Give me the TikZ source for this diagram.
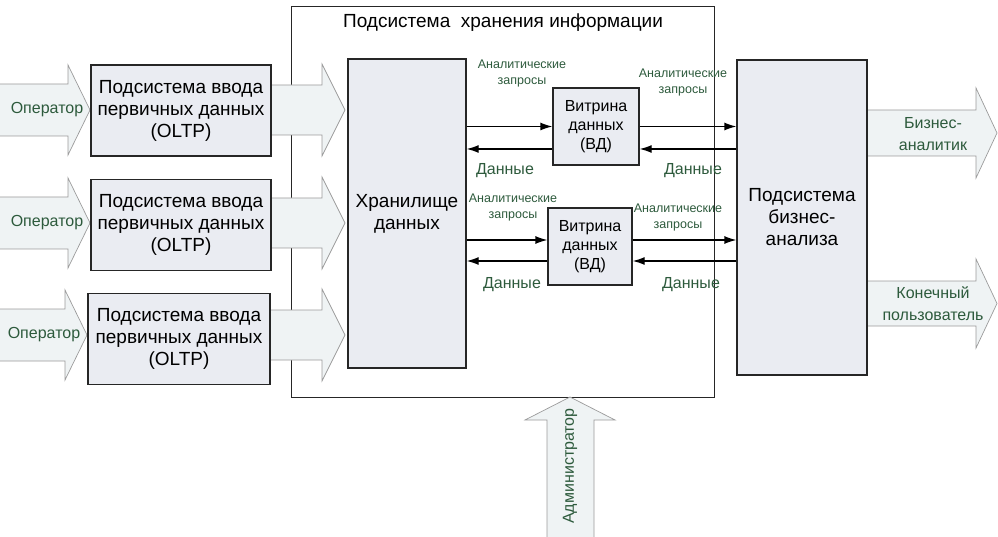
\documentclass[tikz,border=0pt]{standalone}
\usepackage{fontspec}
\setmainfont{Liberation Sans}
\usepackage{tikz}
\usetikzlibrary{positioning, calc, arrows.meta}
\definecolor{boxfill}{RGB}{234, 236, 242}
\definecolor{arrowfill}{RGB}{239, 243, 244}
\definecolor{arrowline}{RGB}{155, 155, 155}
\definecolor{labelgreen}{RGB}{45, 90, 60}

\begin{document}
\begin{tikzpicture}[
        x=1pt, y=-1pt,
        box/.style={
            rectangle, draw=black!85, line width=1.3pt, fill=boxfill,
            inner sep=0pt, align=center, font=\fontsize{19}{22}\selectfont,
        },
        oltp/.style={box, minimum width=180pt, minimum height=91pt},
        mart/.style={box, minimum height=77pt, font=\fontsize{16}{19}\selectfont},
        fat/.style={draw=arrowline, line width=0.7pt, fill=arrowfill},
        lbl/.style={text=labelgreen, align=center, font=\fontsize{16}{21.5}\selectfont},
        small/.style={text=labelgreen, align=center, font=\fontsize{12.5}{16}\selectfont},
        flow/.style={-{Latex[length=12pt,width=8pt]}, line width=1.3pt},
    ]
    \useasboundingbox (0,0) rectangle (998,537);

    % storage subsystem frame
    \node[draw=black!85, line width=1.3pt, inner sep=0pt, anchor=north west,
        minimum width=423pt, minimum height=391pt] (frame) at (291,6) {};
    \node[font=\fontsize{19}{22}\selectfont] (title) at (503,23) {Подсистема\ \ хранения информации};

    % operators and loading arrows
    \foreach \n/\cy/\tip in {1/110/90, 2/223/90, 3/335/87} {
        \draw[fat] (-5,\cy-26) -- (\tip-22,\cy-26) -- (\tip-22,\cy-45) -- (\tip,\cy)
            -- (\tip-22,\cy+45) -- (\tip-22,\cy+26) -- (-5,\cy+26) -- cycle;
        \node[lbl] (op\n) at (\tip-43,\cy) {Оператор};
        \draw[fat] (265,\cy-25) -- (322,\cy-25) -- (322,\cy-46) -- (345,\cy)
            -- (322,\cy+46) -- (322,\cy+25) -- (265,\cy+25) -- cycle;
    }

    \node[oltp] (oltp1) at (181,110.5) {Подсистема ввода\\первичных данных\\(OLTP)};
    \node[oltp, below=22pt of oltp1] (oltp2) {Подсистема ввода\\первичных данных\\(OLTP)};
    \node[oltp, minimum width=182pt, below=22pt of oltp2, xshift=-2pt] (oltp3) {Подсистема ввода\\первичных данных\\(OLTP)};

    % warehouse and data marts
    \node[box, minimum width=118pt, minimum height=309pt] (store) at (407,213.5) {Хранилище\\данных};
    \node[mart, minimum width=86pt] (vd1) at (596,126.5) {Витрина\\данных\\(ВД)};
    \node[mart, minimum width=84pt] (vd2) at (590,246.5) {Витрина\\данных\\(ВД)};

    % outputs
    \draw[fat] (860,110) -- (976,110) -- (976,88) -- (997,133)
        -- (976,178) -- (976,156) -- (860,156) -- cycle;
    \node[lbl] (analyst) at (933,134) {Бизнес-\\аналитик};
    \draw[fat] (860,281) -- (976,281) -- (976,259) -- (997,303.5)
        -- (976,348) -- (976,326) -- (860,326) -- cycle;
    \node[lbl] (user) at (933,303.5) {Конечный\\пользователь};

    \node[box, minimum width=130pt, minimum height=315pt] (ba) at (802,217.5) {Подсистема\\бизнес-\\анализа};

    % administrator
    \draw[fat] (570,397) -- (615,420) -- (594,420) -- (594,545)
        -- (547,545) -- (547,420) -- (525,420) -- cycle;
    \node[lbl, rotate=90] (admin) at (570,466) {Администратор};

    % queries and data flows
    \draw[flow] (store.east |- vd1.west) -- (vd1.west);
    \draw[flow] ([yshift=-22.5pt]vd1.west) -- ([yshift=-22.5pt]vd1.west -| store.east);
    \draw[flow] (vd1.east) -- (vd1.east -| ba.west);
    \draw[flow] ([yshift=-22.5pt]vd1.east -| ba.west) -- ([yshift=-22.5pt]vd1.east);

    \draw[flow] ([yshift=6.5pt]vd2.west -| store.east) -- ([yshift=6.5pt]vd2.west);
    \draw[flow] ([yshift=-14.5pt]vd2.west) -- ([yshift=-14.5pt]vd2.west -| store.east);
    \draw[flow] ([yshift=6.5pt]vd2.east) -- ([yshift=6.5pt]vd2.east -| ba.west);
    \draw[flow] ([yshift=-14.5pt]vd2.east -| ba.west) -- ([yshift=-14.5pt]vd2.east);

    \node[small] (aq1l) at (522,73.5) {Аналитические\\запросы};
    \node[small] (aq1r) at (683,82.5) {Аналитические\\запросы};
    \node[lbl] (d1l) at (505,171) {Данные};
    \node[lbl] (d1r) at (693,171) {Данные};
    \node[small] (aq2l) at (513,207.5) {Аналитические\\запросы};
    \node[small] (aq2r) at (678,217) {Аналитические\\запросы};
    \node[lbl] (d2l) at (512,285) {Данные};
    \node[lbl] (d2r) at (691,285) {Данные};
\end{tikzpicture}
\end{document}
